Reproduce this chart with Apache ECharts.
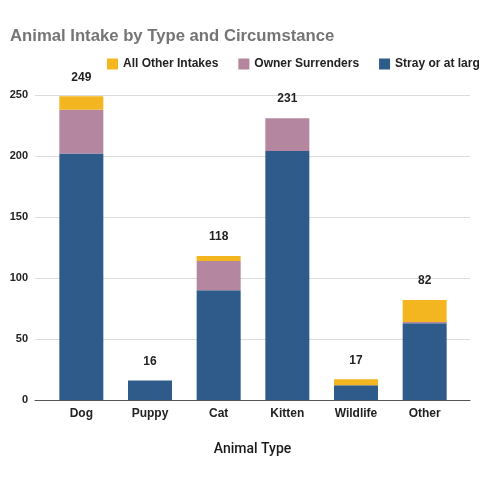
<!DOCTYPE html>
<html>
<head>
<meta charset="utf-8">
<script src="https://cdn.jsdelivr.net/npm/echarts@6/dist/echarts.min.js"></script>
<style>
  html, body { margin: 0; padding: 0; background: #fff; }
  #chart { width: 480px; height: 480px; }
</style>
</head>
<body>
<div id="chart"></div>
<script>
    // 数据
    var categories = ['Dog', 'Puppy', 'Cat', 'Kitten', 'Wildlife', 'Other'];
    var strayData = [202, 16, 90, 204, 12, 63];
    var ownerData = [36, 0, 24, 27, 0, 1];
    var otherData = [11, 0, 4, 0, 5, 18];
    var totals = [249, 16, 118, 231, 17, 82];

    var font = 'Liberation Sans, Arial, sans-serif';
    var chart = echarts.init(document.getElementById('chart'));

    chart.setOption({
        animation: false,
        textStyle: { fontFamily: font },
        title: {
            text: 'Animal Intake by Type and Circumstance',
            left: 5,
            top: 23,
            textStyle: {
                color: '#757575',
                fontWeight: 'bold',
                fontSize: 16.7,
                fontFamily: font
            }
        },
        legend: {
            data: ['All Other Intakes', 'Owner Surrenders', 'Stray or at large'],
            left: 102,
            top: 53,
            width: 700,
            itemWidth: 11,
            itemHeight: 11,
            itemGap: 20,
            icon: 'rect',
            textStyle: {
                color: '#222',
                fontWeight: 'bold',
                fontSize: 12,
                fontFamily: font
            }
        },
        // grid 0: 网格线和坐标轴线; grid 1: 柱子
        grid: [
            { left: 35, right: 10, top: 95, bottom: 80 },
            { left: 47, right: 21, top: 95, bottom: 80 }
        ],
        xAxis: [
            {
                type: 'value',
                gridIndex: 0,
                min: 0,
                max: 1,
                axisLine: { show: true, lineStyle: { color: '#555' } },
                axisTick: { show: false },
                axisLabel: { show: false },
                splitLine: { show: false },
                name: 'Animal Type',
                nameLocation: 'middle',
                nameGap: 42,
                nameTextStyle: {
                    color: '#1a1a1a',
                    fontSize: 14,
                    fontWeight: 500,
                    fontFamily: 'Roboto, Liberation Sans, sans-serif'
                }
            },
            {
                type: 'category',
                gridIndex: 1,
                data: categories,
                axisLine: { show: false },
                axisTick: { show: false },
                axisLabel: {
                    color: '#222',
                    fontWeight: 'bold',
                    fontSize: 12,
                    margin: 8
                }
            }
        ],
        yAxis: [
            {
                type: 'value',
                gridIndex: 0,
                min: 0,
                max: 250,
                interval: 50,
                axisLine: { show: false },
                axisTick: { show: false },
                axisLabel: {
                    color: '#222',
                    fontWeight: 'bold',
                    fontSize: 11,
                    margin: 7
                },
                splitLine: { lineStyle: { color: '#dcdcdc' } }
            },
            {
                type: 'value',
                gridIndex: 1,
                min: 0,
                max: 250,
                interval: 50,
                show: false
            }
        ],
        series: [
            {
                name: 'Stray or at large',
                type: 'bar',
                stack: 'total',
                xAxisIndex: 1,
                yAxisIndex: 1,
                barWidth: 44,
                data: strayData,
                itemStyle: { color: '#2f5b8b' }
            },
            {
                name: 'Owner Surrenders',
                type: 'bar',
                stack: 'total',
                xAxisIndex: 1,
                yAxisIndex: 1,
                data: ownerData,
                itemStyle: { color: '#b5869f' }
            },
            {
                name: 'All Other Intakes',
                type: 'bar',
                stack: 'total',
                xAxisIndex: 1,
                yAxisIndex: 1,
                data: otherData,
                itemStyle: { color: '#f3b621' },
                label: {
                    show: true,
                    position: 'top',
                    distance: 13,
                    color: '#222',
                    fontWeight: 'bold',
                    fontSize: 12,
                    formatter: function (p) { return totals[p.dataIndex]; }
                }
            }
        ]
    });
</script>
</body>
</html>
